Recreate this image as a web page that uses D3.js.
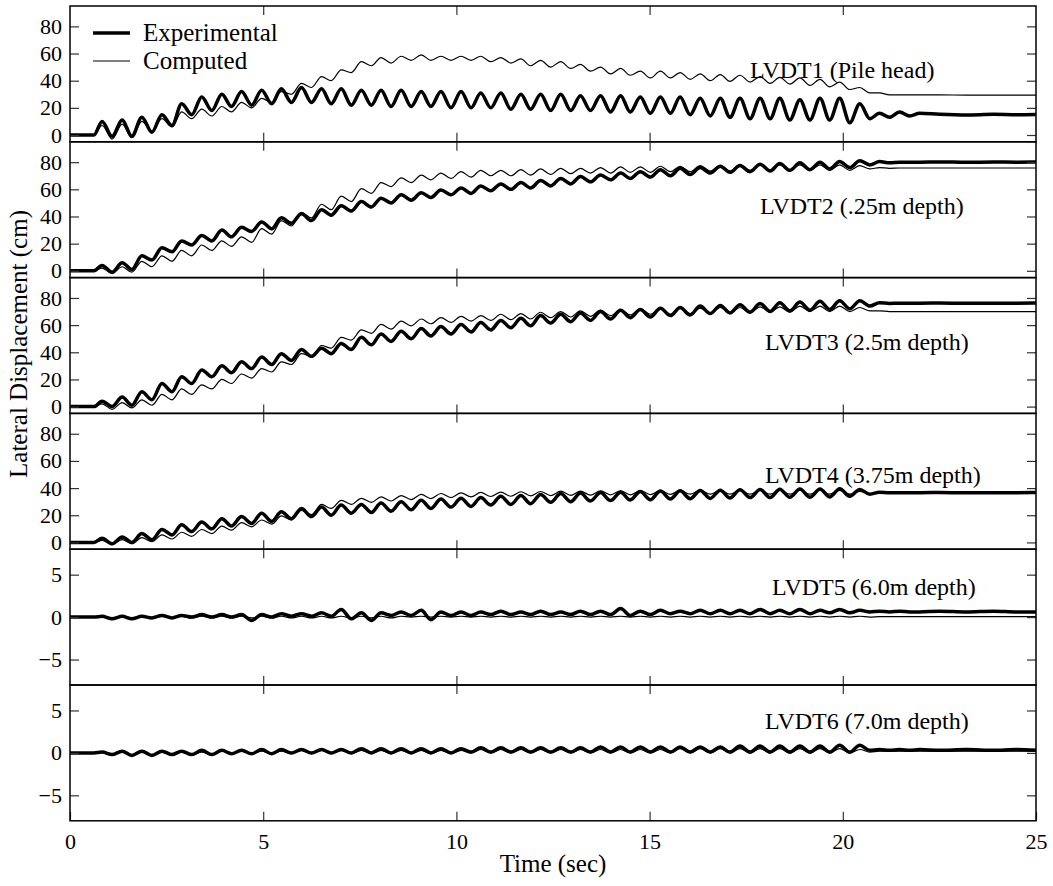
<!DOCTYPE html>
<html>
<head>
<meta charset="utf-8">
<script src="https://cdn.jsdelivr.net/npm/d3@7"></script>
<style>
	body{margin:0;background:#fff;}
	text{font-family:"Liberation Serif","Times New Roman",serif;fill:#000;}
</style>
</head>
<body>
<script>
// time of each sample (sec) - flat start, one point per peak/trough, then settled tail
const time = [0, 0.62,
	0.83,1.09,1.35,1.60,1.86,2.12,2.38,2.64,2.89,3.15,
	3.41,3.67,3.93,4.18,4.44,4.70,4.96,5.22,5.47,5.73,
	5.99,6.25,6.51,6.76,7.02,7.28,7.54,7.80,8.05,8.31,
	8.57,8.83,9.09,9.34,9.60,9.86,10.12,10.38,10.63,10.89,
	11.15,11.41,11.67,11.92,12.18,12.44,12.70,12.96,13.21,13.47,
	13.73,13.99,14.25,14.50,14.76,15.02,15.28,15.54,15.79,16.05,
	16.31,16.57,16.83,17.08,17.34,17.60,17.86,18.12,18.37,18.63,
	18.89,19.15,19.41,19.66,19.92,20.18,20.44,20.70,20.95,21.21,
	21.47,21.73,21.99,
	22.5,23.2,23.9,24.5,25.0];

// lateral displacement (cm)
const lvdt1Exp = [0, 0,
	10,-1,11,-1,13,2,15,7,23,15,
	28,18,30,21,32,22,33,23,34,24,
	35,24,34,23,34,22,33,22,33,21,
	33,21,32,21,32,20,32,20,31,20,
	31,19,30,19,30,18,30,18,29,18,
	29,17,29,17,28,16,28,16,28,15,
	27,14,27,13,27,12,27,12,27,11,
	26,11,27,11,27,9,23,12,16,13,
	17,14,16,
	15.3,14.8,15.2,14.9,15.1];
const lvdt1Com = [0, 0,
	7,-3,8,-2,10,3,12,6,17,12,
	19,14,21,17,24,20,27,24,32,30,
	38,35,43,40,48,46,54,51,57,53,
	58,55,59,55,58,55,58,55,58,54,
	57,53,56,51,55,50,54,49,52,47,
	50,45,49,44,47,42,47,42,46,41,
	45,40,44.5,39.5,44,39,43,38,42.5,37.5,
	42,36.5,41,35.5,39,33.5,35,31,31,29.5,
	29.5,29.5,29.5,
	29.5,29.4,29.4,29.3,29.3];
const lvdt2Exp = [0, 0,
	4,-1,6,1,11,8,17,14,22,19,
	26,22,30,25,32,29,36,31,39,35,
	42,37,45,41,48,44,51,47,53.5,50,
	56,52,57.5,54,59.5,56,61,57,62.5,59,
	64,60,65,61,66.5,62.5,68,64,69.5,65.5,
	70.5,67,72,68,73,69,74.5,70,75.5,71,
	76,72,77,72.5,77.5,73,78.5,73.5,79,74,
	79.5,74.5,80,75,80.5,76,81,78,80.5,79.5,
	80,80,80,
	80.2,79.9,80.1,80,80.1];
const lvdt2Com = [0, 0,
	2,-2,3,-1,7,3,11,7,15,11,
	19,15,22,18,25,21,31,27,37,33,
	43,39,49,45,55,51,60.5,57,65,62,
	68.5,65,70.5,67,72,68,73,69,74,70,
	74,70,74.5,70.5,75,71,75.5,71.5,75.5,72,
	76,72,76.5,72.5,76.5,72.5,77,73,77,73,
	77.5,73.5,77.5,73.5,78,74,78,74,78,74,
	78,74,78,74,78,74,77.5,75,76,75.5,
	75.7,75.7,75.7,
	75.7,75.7,75.7,75.7,75.7];
const lvdt3Exp = [0, 0,
	4,0,7,1,11,5,17,11,22,17,
	27,22,30,25,33,28,36.5,31,39,34,
	42,37,43,39,46.5,42,51,45.5,53.5,48,
	55.5,50,57.5,52,59,53.5,60.5,55,62,56.5,
	63.5,58,65,59.5,67,61.5,68,62.5,69,63.5,
	70,64.5,71,65.5,71.5,66,72.5,67,73,67.5,
	74,68.5,74.5,69,75,69.5,76,70,76.5,70.5,
	77,71,77.5,71.5,78,72,78,74,76.5,76,
	76.2,76.2,76.2,
	76.3,76.1,76.2,76.2,76.3];
const lvdt3Com = [0, 0,
	2,-2,3,-1,5,1,9,5,13,9,
	16,13,20,17,24,21,28,25.5,33,31,
	39,37,45,43,51,49,56.5,54,60.5,57,
	63,59.5,64.5,61,65.5,62,66.5,63,67,63.5,
	68,64,68.5,64.5,69.5,65.5,70,66,70.5,66.5,
	71,67,71.5,67.5,72,68,72,68,72.5,68.5,
	72.5,68.5,73,69,73,69,73.5,69.5,73.5,69.5,
	74,70,74,70,74,70,73,70.5,70.5,70,
	70,70,70,
	70,70,70,70,70];
const lvdt4Exp = [0, 0,
	3,-1,4,0,6.5,2,9.5,5.5,13,8,
	15,10,17.5,12,19,14,21.5,15.5,22.5,17.5,
	25,19,26,20,27.5,21.5,28,22,29,23,
	30,24,31,25,32,26,32.5,26.5,33,27.5,
	34,28,34.5,28.5,35.3,29.5,36,30,36.3,30.5,
	36.7,30.8,37,31.3,37.5,31.5,37.8,32,38,32.2,
	38.3,32.4,38.5,32.7,38.8,33,39,33,39.2,33.2,
	39.3,33.3,39.4,33.5,39.5,34,39,35.5,37,36.6,
	36.6,36.6,36.6,
	36.7,36.5,36.6,36.6,36.7];
const lvdt4Com = [0, 0,
	1.5,-1.5,2,-1,3.5,0.5,5.5,2.5,7.5,4.5,
	9.5,6.5,12,9,14.5,11.5,16.5,13.5,19.5,16.5,
	23.5,20.5,28,25,31,28,32.5,29.5,33.5,30.5,
	34.5,31.5,35.3,32.3,36,33,36.5,33.5,36.8,33.8,
	37,34,37.3,34.3,37.5,34.5,37.7,34.7,37.8,34.8,
	38,35,38,35,38.2,35.2,38.3,35.3,38.5,35.5,
	38.5,35.5,38.5,35.5,38.5,35.5,38.5,35.5,38.5,35.5,
	38.5,35.5,38.5,35.5,38.3,35.5,37.5,36,36.8,36.6,
	36.6,36.6,36.6,
	36.6,36.6,36.6,36.6,36.6];
const lvdt5Exp = [0, 0,
	0.1,-0.2,0.1,-0.2,0.1,-0.1,0.2,-0.1,0.2,0,
	0.3,0,0.3,0,0.3,-0.4,0.3,0,0.4,0.1,
	0.4,0.1,0.5,0.1,0.9,-0.2,0.5,-0.4,0.5,0.2,
	0.6,0.2,0.8,-0.3,0.6,0.2,0.6,0.2,0.6,0.3,
	0.7,0.3,0.6,0.3,0.7,0.3,0.6,0.3,0.7,0.3,
	0.7,0.3,1.0,0.2,0.7,0.3,0.8,0.4,0.7,0.4,
	0.8,0.4,0.8,0.4,0.8,0.4,0.9,0.4,0.8,0.4,
	0.9,0.4,0.8,0.5,0.9,0.5,0.8,0.6,0.7,0.6,
	0.7,0.6,0.6,
	0.7,0.6,0.7,0.6,0.6];
const lvdt5Com = [0, 0,
	0.1,-0.1,0.1,-0.1,0.1,-0.1,0.1,-0.1,0.1,-0.1,
	0.1,-0.1,0.1,-0.1,0.1,-0.1,0.1,-0.1,0.1,-0.1,
	0.1,-0.1,0.1,-0.1,0.1,-0.1,0.1,-0.1,0.1,-0.1,
	0.1,0,0.1,0,0.1,0,0.1,0,0.1,0,
	0.1,0,0.1,0,0.1,0,0.1,0,0.1,0,
	0.1,0,0.1,0,0.1,0,0.1,0,0.1,0,
	0.1,0,0.1,0,0.1,0,0.1,0,0.1,0,
	0.1,0,0.1,0,0.1,0,0.1,0,0.05,0.05,
	0.05,0.05,0.05,
	0.05,0.05,0.05,0.05,0.05];
const lvdt6Exp = [0, 0,
	0.1,-0.2,0.2,-0.3,0.2,-0.3,0.2,-0.2,0.2,-0.2,
	0.3,-0.2,0.3,-0.1,0.3,-0.1,0.4,-0.1,0.4,0,
	0.4,0,0.4,0,0.4,0,0.5,0,0.5,0,
	0.5,0,0.5,0,0.5,0,0.5,0.1,0.6,0.1,
	0.6,0.1,0.6,0.1,0.6,0.1,0.6,0.1,0.6,0.1,
	0.7,0.1,0.7,0.1,0.7,0.1,0.7,0.1,0.7,0.1,
	0.7,0.1,0.7,0.1,0.8,0.1,0.8,0.1,0.8,0.1,
	0.8,0.1,0.8,0.1,0.9,0.1,0.9,0.3,0.4,0.3,
	0.4,0.3,0.4,
	0.3,0.4,0.3,0.4,0.3];
const lvdt6Com = [0, 0,
	0.1,-0.2,0.1,-0.2,0.1,-0.2,0.1,-0.2,0.1,-0.2,
	0.1,-0.2,0.2,-0.1,0.2,-0.1,0.2,-0.1,0.2,-0.1,
	0.3,-0.1,0.3,-0.1,0.3,-0.1,0.3,-0.1,0.3,-0.1,
	0.3,-0.1,0.3,-0.1,0.3,-0.1,0.3,0,0.4,0,
	0.4,0,0.4,0,0.4,0,0.4,0,0.4,0,
	0.4,0,0.4,0,0.4,0,0.4,0,0.5,0,
	0.5,0,0.5,0,0.5,0,0.5,0,0.5,0,
	0.5,0,0.5,0,0.5,0,0.4,0.1,0.2,0.2,
	0.2,0.2,0.2,
	0.2,0.2,0.2,0.2,0.2];

const panelNames = ["LVDT1 (Pile head)","LVDT2 (.25m depth)","LVDT3 (2.5m depth)",
	"LVDT4 (3.75m depth)","LVDT5 (6.0m depth)","LVDT6 (7.0m depth)"];
const bigTicks = [0,20,40,60,80];
const smallTicks = [-5,0,5];
const timeTicks = [0,5,10,15,20,25];
const innerTimeTicks = [5,10,15,20];
const legendNames = ["Experimental","Computed"];
const xTitle = "Time (sec)";
const yTitle = "Lateral Displacement (cm)";

(function(){
	//layout
	const Config = {
		svg: {Width: 1053, Height: 886},
		plot: {left: 70, right: 1036, top: 6, panelH: 135.8},
		tick: 9,
		thick: 3.5, thin: 1.2,
		font: 22, labelFont: 24, titleFont: 25
	};
	// per panel: series, y range, label spot (px from panel left/top)
	const panels = [
		{exp: lvdt1Exp, com: lvdt1Com, dom: [-5,95], ticks: bigTicks, lx: 680, ly: 72},
		{exp: lvdt2Exp, com: lvdt2Com, dom: [-5,95], ticks: bigTicks, lx: 690, ly: 72},
		{exp: lvdt3Exp, com: lvdt3Com, dom: [-5,95], ticks: bigTicks, lx: 695, ly: 72},
		{exp: lvdt4Exp, com: lvdt4Com, dom: [-5,95], ticks: bigTicks, lx: 695, ly: 70},
		{exp: lvdt5Exp, com: lvdt5Com, dom: [-8,8], ticks: smallTicks, lx: 702, ly: 46},
		{exp: lvdt6Exp, com: lvdt6Com, dom: [-8,8], ticks: smallTicks, lx: 695, ly: 44}
	];

	var svg = d3.select('body')
			.append('svg')
			.attr('width', Config.svg.Width)
			.attr('height', Config.svg.Height);

	var scaleX = d3.scaleLinear().domain([0,25]).range([Config.plot.left, Config.plot.right]);
	var W = Config.plot.right - Config.plot.left;
	var H = Config.plot.panelH;

	panels.forEach(function(p, k){
		var top = Config.plot.top + k*H;
		var scaleY = d3.scaleLinear().domain(p.dom).range([top+H, top]);
		var g = svg.append('g').attr('class','panel');

		var line = d3.line()
			.x(function(d){ return scaleX(d[0]); })
			.y(function(d){ return scaleY(d[1]); })
			.curve(d3.curveMonotoneX);

		//computed (thin) then experimental (thick)
		g.append('path')
			.datum(d3.zip(time, p.com))
			.attr('fill','none').attr('stroke','#000')
			.attr('stroke-width', Config.thin)
			.attr('stroke-linejoin','round')
			.attr('d', line);
		g.append('path')
			.datum(d3.zip(time, p.exp))
			.attr('fill','none').attr('stroke','#000')
			.attr('stroke-width', Config.thick)
			.attr('stroke-linejoin','round')
			.attr('d', line);

		//axes, ticks pointing inward
		var left = g.append('g')
			.attr('transform','translate('+Config.plot.left+',0)')
			.call(d3.axisLeft(scaleY).tickValues(p.ticks).tickSize(-Config.tick).tickPadding(8));
		var right = g.append('g')
			.attr('transform','translate('+Config.plot.right+',0)')
			.call(d3.axisRight(scaleY).tickValues(p.ticks).tickSize(-Config.tick).tickFormat(''));
		var topAx = g.append('g')
			.attr('transform','translate(0,'+top+')')
			.call(d3.axisTop(scaleX).tickValues(innerTimeTicks).tickSize(-Config.tick).tickFormat(''));
		var last = k == panels.length-1;
		var bottom = g.append('g')
			.attr('transform','translate(0,'+(top+H)+')')
			.call(d3.axisBottom(scaleX).tickValues(last ? timeTicks : innerTimeTicks)
				.tickSize(-Config.tick).tickPadding(13).tickFormat(last ? d3.format('d') : ''));
		[left,right,topAx,bottom].forEach(function(a){
			a.attr('font-size', Config.font).attr('font-family', null);
			a.select('.domain').remove();
			a.selectAll('line').attr('stroke','#333').attr('stroke-width',1.2);
			a.selectAll('text').attr('fill','#000');
		});

		//panel frame
		g.append('rect')
			.attr('x', Config.plot.left).attr('y', top)
			.attr('width', W).attr('height', H)
			.attr('fill','none').attr('stroke','#000').attr('stroke-width',1.5);

		//panel label
		g.append('text')
			.attr('x', Config.plot.left + p.lx)
			.attr('y', top + p.ly)
			.attr('font-size', Config.labelFont)
			.text(panelNames[k]);
	});

	//legend
	var legend = svg.append('g').attr('class','legend');
	[Config.thick, Config.thin].forEach(function(w, i){
		var y = 33 + i*28;
		legend.append('line')
			.attr('x1', 93).attr('x2', 130).attr('y1', y).attr('y2', y)
			.attr('stroke','#000').attr('stroke-width', w);
		legend.append('text')
			.attr('x', 143).attr('y', y + 8)
			.attr('font-size', Config.titleFont)
			.text(legendNames[i]);
	});

	//titles
	svg.append('text')
		.attr('x', (Config.plot.left+Config.plot.right)/2)
		.attr('y', 872)
		.attr('text-anchor','middle')
		.attr('font-size', Config.titleFont)
		.text(xTitle);
	svg.append('text')
		.attr('transform','translate(27,344) rotate(-90)')
		.attr('text-anchor','middle')
		.attr('font-size', Config.titleFont)
		.text(yTitle);
})();
</script>
</body>
</html>
